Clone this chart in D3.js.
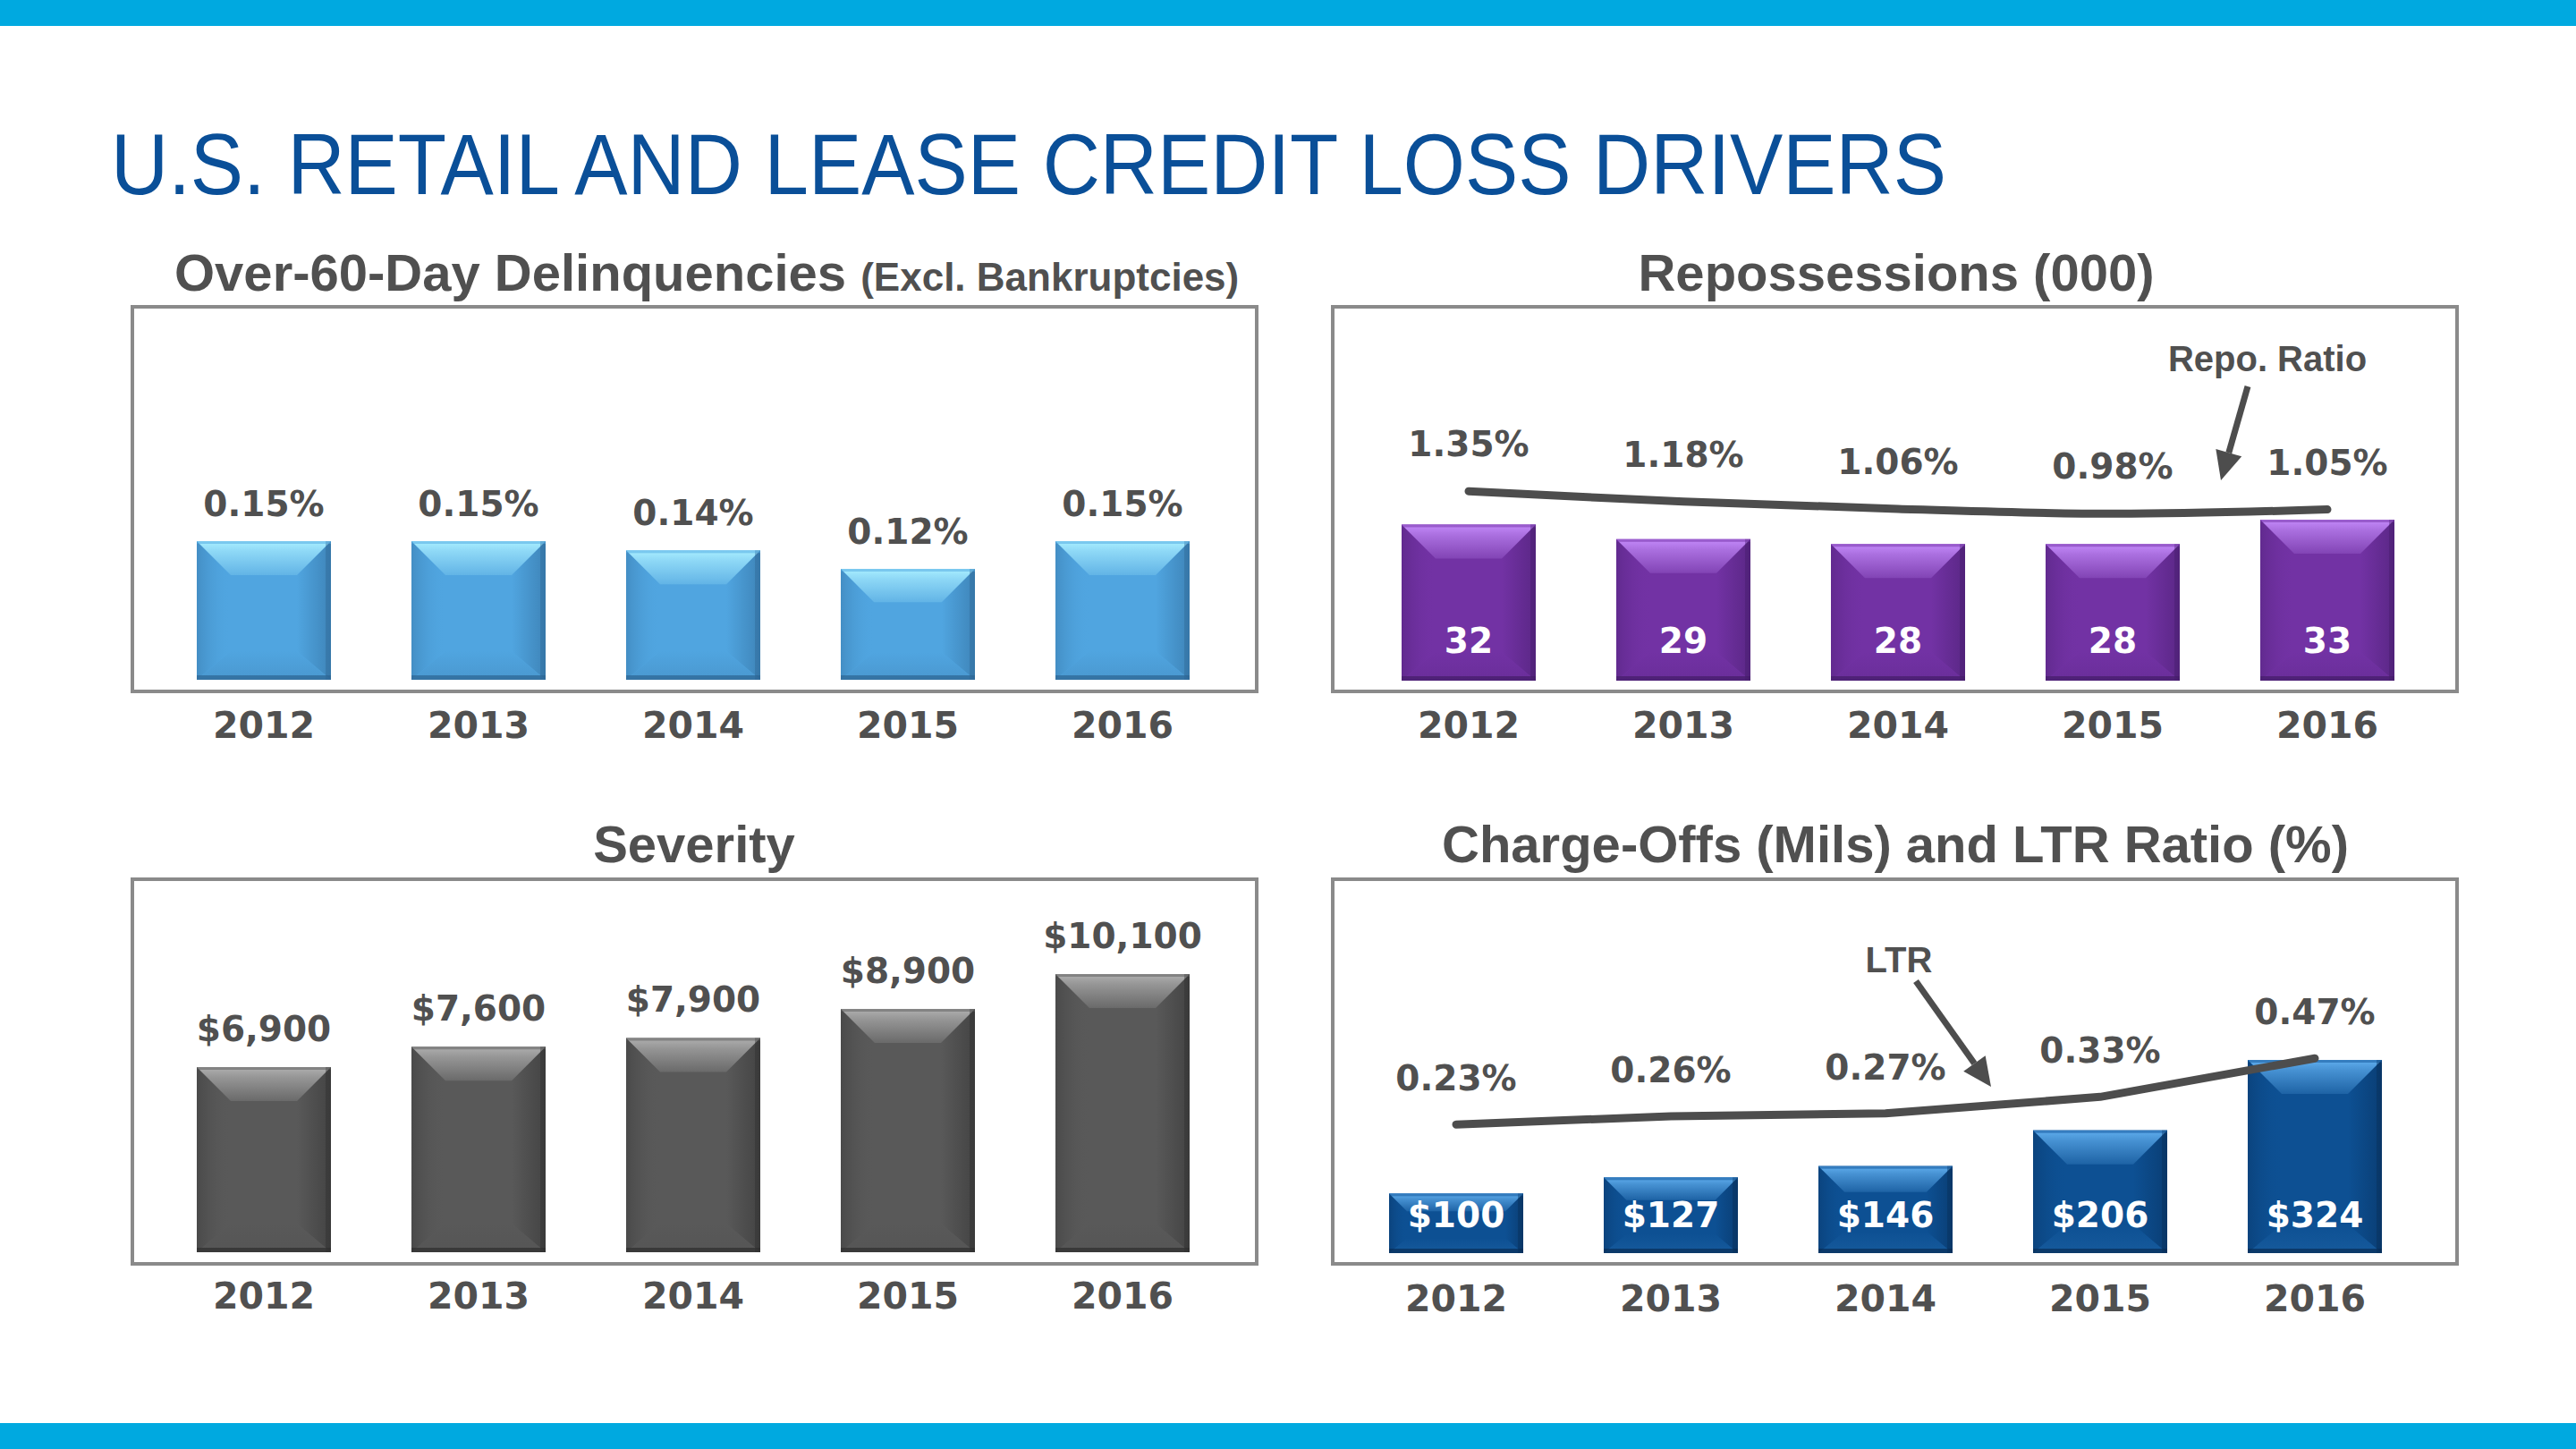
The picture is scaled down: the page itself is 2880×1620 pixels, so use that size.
<!DOCTYPE html>
<html><head><meta charset="utf-8">
<script src="https://cdn.jsdelivr.net/npm/d3@7"></script>
<style>body{margin:0;background:#fff}svg{display:block}</style>
</head><body>
<script>
// ---------- data ----------
const years = ["2012", "2013", "2014", "2015", "2016"];
const delinquencies = [0.15, 0.15, 0.14, 0.12, 0.15];          // %
const repossessions = [32, 29, 28, 28, 33];                      // (000)
const repoRatio = [1.35, 1.18, 1.06, 0.98, 1.05];                // %
const severity = [6900, 7600, 7900, 8900, 10100];                // $
const chargeOffs = [100, 127, 146, 206, 324];                    // $ mils
const ltrRatio = [0.23, 0.26, 0.27, 0.33, 0.47];                 // %

const mainTitle = "U.S. RETAIL AND LEASE CREDIT LOSS DRIVERS";
const panelTitles = ["Over-60-Day Delinquencies ", "(Excl. Bankruptcies)", "Repossessions (000)", "Severity", "Charge-Offs (Mils) and LTR Ratio (%)"];

// ---------- setup ----------
const W = 2880, H = 1620;
const svg = d3.select("body").append("svg").attr("width", W).attr("height", H);
svg.append("rect").attr("width", W).attr("height", H).attr("fill", "#fff");
const defs = svg.append("defs");

const TXT = "#505050";
const NUMF = "'DejaVu Sans', sans-serif";
const TITLEF = "'Liberation Sans', Arial, sans-serif";

// bands
svg.append("rect").attr("x", 0).attr("y", 0).attr("width", W).attr("height", 29).attr("fill", "#00A9E0");
svg.append("rect").attr("x", 0).attr("y", 1591).attr("width", W).attr("height", 29).attr("fill", "#00A9E0");

// main title
svg.append("text").attr("x", 124).attr("y", 217)
  .attr("font-family", TITLEF).attr("font-size", 97).attr("fill", "#0A4F98")
  .attr("textLength", 2052).attr("lengthAdjust", "spacingAndGlyphs")
  .text(mainTitle);

// colour schemes
const schemes = {
  lightblue: {main: "#50A5E0", light: "#A8EEFF", bot: "#4A98D0", edge: "#2C6491"},
  purple:    {main: "#7232A4", light: "#C48AFA", bot: "#6A2E9A", edge: "#431C68"},
  gray:      {main: "#595959", light: "#B0B0B0", bot: "#555555", edge: "#2E2E2E"},
  navy:      {main: "#0D5093", light: "#60AEEE", bot: "#165A9C", edge: "#072C56"}
};
Object.entries(schemes).forEach(([k, s]) => {
  const mix = t => d3.interpolateRgb(s.light, s.main)(t);
  const t = defs.append("linearGradient").attr("id", k + "-top").attr("x1", 0).attr("y1", 0).attr("x2", 0).attr("y2", 1);
  t.append("stop").attr("offset", "0").attr("stop-color", s.light);
  t.append("stop").attr("offset", "0.3").attr("stop-color", mix(0.3));
  t.append("stop").attr("offset", "1").attr("stop-color", mix(0.8));
  const b = defs.append("linearGradient").attr("id", k + "-bot").attr("x1", 0).attr("y1", 0).attr("x2", 0).attr("y2", 1);
  b.append("stop").attr("offset", "0").attr("stop-color", s.main);
  b.append("stop").attr("offset", "1").attr("stop-color", s.bot);
  const r = defs.append("linearGradient").attr("id", k + "-right").attr("x1", 0).attr("y1", 0).attr("x2", 1).attr("y2", 0);
  r.append("stop").attr("offset", "0").attr("stop-color", s.edge).attr("stop-opacity", 0);
  r.append("stop").attr("offset", "1").attr("stop-color", s.edge).attr("stop-opacity", 0.9);
  const l = defs.append("linearGradient").attr("id", k + "-left").attr("x1", 0).attr("y1", 0).attr("x2", 1).attr("y2", 0);
  l.append("stop").attr("offset", "0").attr("stop-color", s.edge).attr("stop-opacity", 0.35);
  l.append("stop").attr("offset", "1").attr("stop-color", s.main).attr("stop-opacity", 0);
});

// panel frames
function frame(x0, y0, x1, y1) {
  svg.append("rect").attr("x", x0).attr("y", y0).attr("width", x1 - x0).attr("height", y1 - y0)
    .attr("fill", "none").attr("stroke", "#8A8A8A").attr("stroke-width", 4);
}
frame(148, 343, 1405, 773);
frame(1490, 343, 2747, 773);
frame(148, 983, 1405, 1413);
frame(1490, 983, 2747, 1413);

// panel titles
const t1 = svg.append("text").attr("x", 195).attr("y", 325).attr("font-family", TITLEF).attr("font-weight", "bold").attr("fill", TXT);
t1.append("tspan").attr("font-size", 58).text(panelTitles[0]);
t1.append("tspan").attr("font-size", 44).text(panelTitles[1]);
function ctitle(x, y, s) {
  svg.append("text").attr("x", x).attr("y", y).attr("text-anchor", "middle")
    .attr("font-family", TITLEF).attr("font-weight", "bold").attr("font-size", 58).attr("fill", TXT).text(s);
}
ctitle(2120, 325, panelTitles[2]);
ctitle(776, 964, panelTitles[3]);
ctitle(2119, 964, panelTitles[4]);

// ---------- bars ----------
function bandScale(a) {
  return d3.scaleBand().domain(years).range([a, a + 1200]).paddingInner(0.375).paddingOuter(0.1875);
}

function drawBars(x, y, values, schemeKey) {
  const g = svg.append("g");
  const base = y.range()[0];
  const w = x.bandwidth();
  years.forEach((yr, i) => {
    const x0 = x(yr), top = y(values[i]), h = base - top;
    const b = Math.min(38, h * 0.3);
    const bb = Math.min(32, h * 0.25);
    const s = schemes[schemeKey];
    const bg = g.append("g");
    bg.append("rect").attr("x", x0).attr("y", top).attr("width", w).attr("height", h).attr("fill", s.main);
    // left bevel
    bg.append("path").attr("d", `M${x0},${top}L${x0 + b},${top + b}L${x0 + b},${base - bb}L${x0},${base}Z`).attr("fill", `url(#${schemeKey}-left)`);
    // right bevel
    bg.append("path").attr("d", `M${x0 + w},${top}L${x0 + w - b},${top + b}L${x0 + w - b},${base - bb}L${x0 + w},${base}Z`).attr("fill", `url(#${schemeKey}-right)`).attr("opacity", 0.55);
    // bottom bevel
    bg.append("path").attr("d", `M${x0},${base}L${x0 + b},${base - bb}L${x0 + w - b},${base - bb}L${x0 + w},${base}Z`).attr("fill", `url(#${schemeKey}-bot)`);
    // top bevel
    bg.append("path").attr("d", `M${x0},${top}L${x0 + w},${top}L${x0 + w - b},${top + b}L${x0 + b},${top + b}Z`).attr("fill", `url(#${schemeKey}-top)`);
    // edges
    bg.append("rect").attr("x", x0 + w - 6).attr("y", top).attr("width", 6).attr("height", h).attr("fill", s.edge).attr("opacity", 0.4);
    bg.append("rect").attr("x", x0).attr("y", base - 5).attr("width", w).attr("height", 5).attr("fill", s.edge).attr("opacity", 0.7);
    bg.append("rect").attr("x", x0).attr("y", top).attr("width", w).attr("height", 3).attr("fill", s.main).attr("opacity", 0.5);
  });
  return g;
}

function yearAxis(x, baseline) {
  const ax = svg.append("g").attr("transform", `translate(0,${baseline})`)
    .call(d3.axisBottom(x).tickSize(0).tickPadding(0));
  ax.select(".domain").remove();
  ax.selectAll("text").attr("font-family", NUMF).attr("font-weight", "bold").attr("font-size", 41)
    .attr("fill", TXT).attr("dy", 0);
}

function labels(xPos, yPos, texts, color) {
  texts.forEach((t, i) => {
    svg.append("text").attr("x", xPos(i)).attr("y", yPos(i)).attr("text-anchor", "middle")
      .attr("font-family", NUMF).attr("font-weight", "bold").attr("font-size", 39).attr("fill", color).text(t);
  });
}

const fmtPct = d => d3.format(".2f")(d) + "%";

// Panel 1: delinquencies
const x1 = bandScale(175);
const y1 = d3.scaleLinear().domain([0, 0.15]).range([760, 605]);
drawBars(x1, y1, delinquencies, "lightblue");
labels(i => x1(years[i]) + x1.bandwidth() / 2, i => y1(delinquencies[i]) - 28, delinquencies.map(fmtPct), TXT);
yearAxis(x1, 825);

// Panel 2: repossessions
const x2 = bandScale(1522);
const y2 = d3.scaleLinear().domain([0, 33]).range([761, 581]);
const y2r = d3.scaleLinear().domain([0, 1.5]).range([641, 539]);
drawBars(x2, y2, repossessions, "purple");
labels(i => x2(years[i]) + x2.bandwidth() / 2, i => 730, repossessions.map(String), "#fff");
const cx2 = yr => x2(yr) + x2.bandwidth() / 2;
svg.append("path").datum(repoRatio)
  .attr("d", d3.line().x((d, i) => cx2(years[i])).y(d => y2r(d)).curve(d3.curveCatmullRom))
  .attr("fill", "none").attr("stroke", "#4D4D4D").attr("stroke-width", 9).attr("stroke-linecap", "round");
labels(i => cx2(years[i]), i => y2r(repoRatio[i]) - 39, repoRatio.map(fmtPct), TXT);
yearAxis(x2, 825);

// Panel 3: severity
const x3 = bandScale(175);
const y3 = d3.scaleLinear().domain([530, 10100]).range([1400, 1089]);
drawBars(x3, y3, severity, "gray");
labels(i => x3(years[i]) + x3.bandwidth() / 2, i => y3(severity[i]) - 29, severity.map(d3.format("$,")), TXT);
yearAxis(x3, 1463);

// Panel 4: charge-offs & LTR
const x4 = bandScale(1508);
const y4 = d3.scaleLinear().domain([0, 324]).range([1401, 1185]);
const y4r = d3.scaleLinear().domain([0, 0.5]).range([1328, 1174]);
drawBars(x4, y4, chargeOffs, "navy");
labels(i => x4(years[i]) + x4.bandwidth() / 2, i => 1372, chargeOffs.map(d => "$" + d), "#fff");
const cx4 = yr => x4(yr) + x4.bandwidth() / 2;
svg.append("path").datum(ltrRatio)
  .attr("d", d3.line().x((d, i) => cx4(years[i])).y(d => y4r(d)))
  .attr("fill", "none").attr("stroke", "#4D4D4D").attr("stroke-width", 9).attr("stroke-linecap", "round").attr("stroke-linejoin", "round");
labels(i => cx4(years[i]), i => y4r(ltrRatio[i]) - 38, ltrRatio.map(fmtPct), TXT);
yearAxis(x4, 1466);

// ---------- annotations ----------
function arrow(xa, ya, xb, yb) {
  const ang = Math.atan2(yb - ya, xb - xa);
  const L = 32, hw = 15;
  const bx = xb - L * Math.cos(ang), by = yb - L * Math.sin(ang);
  svg.append("line").attr("x1", xa).attr("y1", ya).attr("x2", bx).attr("y2", by)
    .attr("stroke", "#4D4D4D").attr("stroke-width", 7);
  const px = -Math.sin(ang) * hw, py = Math.cos(ang) * hw;
  svg.append("path").attr("d", `M${xb},${yb}L${bx + px},${by + py}L${bx - px},${by - py}Z`).attr("fill", "#4D4D4D");
}
svg.append("text").attr("x", 2535).attr("y", 415).attr("text-anchor", "middle")
  .attr("font-family", TITLEF).attr("font-weight", "bold").attr("font-size", 40).attr("fill", TXT).text("Repo. Ratio");
arrow(2513, 432, 2483, 537);
svg.append("text").attr("x", 2123).attr("y", 1087).attr("text-anchor", "middle")
  .attr("font-family", TITLEF).attr("font-weight", "bold").attr("font-size", 40).attr("fill", TXT).text("LTR");
arrow(2142, 1097, 2226, 1215);
</script>
</body></html>
